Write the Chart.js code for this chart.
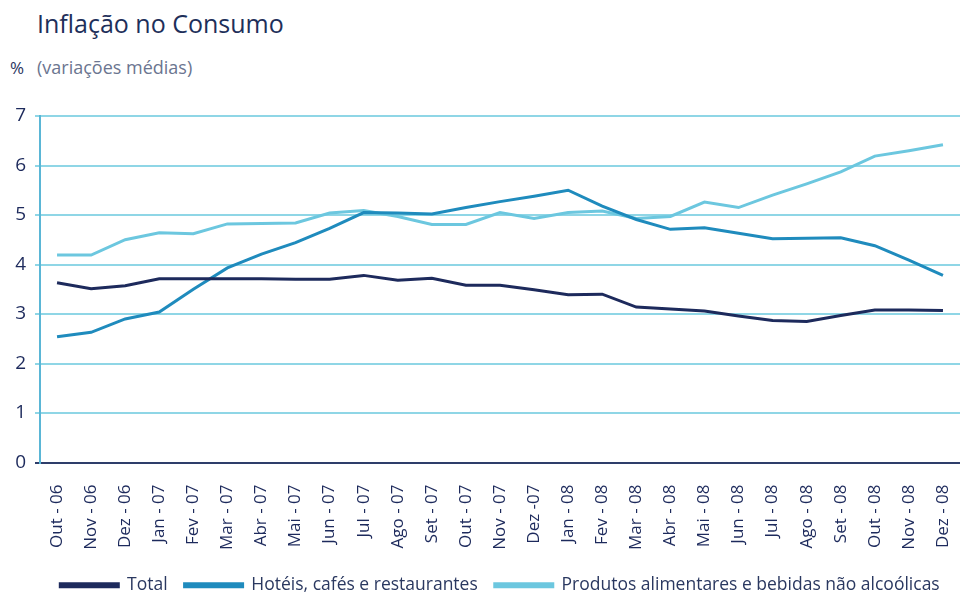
<!DOCTYPE html>
<html lang="pt">
<head>
    <meta charset="utf-8">
    <title>Inflação no Consumo</title>
    <script src="https://cdn.jsdelivr.net/npm/chart.js"></script>
    <style>
        body { margin: 0; background: #fff; font-family: "Open Sans", sans-serif; }
        .wrap { position: relative; width: 960px; height: 595px; }
        .title { position: absolute; left: 37px; top: 6px; font-size: 25px; color: #1e2f5a; }
        .unit { position: absolute; left: 10px; top: 56px; font-size: 17px; color: #2a3560; }
        .sub { position: absolute; left: 37px; top: 55px; font-size: 18px; color: #6b7590; }
        canvas { position: absolute; left: 0; top: 0; }
    </style>
</head>
<body>
<div class="wrap">
    <div class="title">Inflação no Consumo</div>
    <div class="unit">%</div>
    <div class="sub">(variações médias)</div>
    <canvas id="chart" width="960" height="595"></canvas>
</div>
<script>
    const months = ['Out - 06', 'Nov - 06', 'Dez - 06', 'Jan - 07', 'Fev - 07', 'Mar - 07', 'Abr - 07',
        'Mai - 07', 'Jun - 07', 'Jul - 07', 'Ago - 07', 'Set - 07', 'Out - 07', 'Nov - 07', 'Dez -07',
        'Jan - 08', 'Fev - 08', 'Mar - 08', 'Abr - 08', 'Mai - 08', 'Jun - 08', 'Jul - 08', 'Ago - 08',
        'Set - 08', 'Out - 08', 'Nov - 08', 'Dez - 08'];

    const total = [3.63, 3.51, 3.57, 3.71, 3.71, 3.71, 3.71, 3.70, 3.70, 3.78, 3.68, 3.72, 3.58,
        3.58, 3.49, 3.39, 3.40, 3.14, 3.10, 3.06, 2.96, 2.87, 2.85, 2.97, 3.08, 3.08, 3.07];

    const hoteis = [2.54, 2.63, 2.90, 3.04, 3.50, 3.93, 4.21, 4.44, 4.73, 5.05, 5.04, 5.02, 5.15,
        5.27, 5.38, 5.50, 5.18, 4.91, 4.71, 4.74, 4.63, 4.52, 4.53, 4.54, 4.38, 4.09, 3.78];

    const alimentares = [4.19, 4.19, 4.50, 4.64, 4.62, 4.82, 4.83, 4.84, 5.04, 5.09, 4.97, 4.81, 4.81,
        5.05, 4.93, 5.05, 5.08, 4.93, 4.97, 5.26, 5.15, 5.40, 5.63, 5.87, 6.19, 6.30, 6.42];

    const yTicks = [0, 1, 2, 3, 4, 5, 6, 7];

    const navy = '#1d2a5c';
    const mid = '#1f8bbd';
    const light = '#6cc7df';
    const grid = '#8fd6e6';

    function series(label, data, color) {
        return {
            label: label,
            data: data,
            borderColor: color,
            backgroundColor: color,
            borderWidth: 3,
            pointRadius: 0,
            tension: 0
        };
    }

    new Chart(document.getElementById('chart'), {
        type: 'line',
        data: {
            labels: months,
            datasets: [
                series('Total', total, navy),
                series('Hotéis, cafés e restaurantes', hoteis, mid),
                series('Produtos alimentares e bebidas não alcoólicas', alimentares, light)
            ]
        },
        options: {
            responsive: false,
            animation: false,
            layout: { padding: { top: 116, left: 0, right: -12, bottom: -9 } },
            plugins: {
                tooltip: { enabled: false },
                legend: {
                    position: 'bottom',
                    fullSize: false,
                    labels: {
                        boxWidth: 58,
                        boxHeight: 3,
                        padding: 17,
                        color: '#2a3860',
                        font: { family: 'Open Sans', size: 17.5 }
                    }
                }
            },
            scales: {
                x: {
                    offset: true,
                    grid: { display: false },
                    border: { display: true, color: '#2e3d6a', width: 2 },
                    ticks: {
                        autoSkip: false,
                        minRotation: 90,
                        maxRotation: 90,
                        padding: 14,
                        color: '#1d2a5c',
                        font: { family: 'Open Sans', size: 17 }
                    },
                    afterFit: function (scale) {
                        scale.height = 97;
                        scale.paddingLeft = 0;
                        scale.paddingRight = 0;
                    }
                },
                y: {
                    min: 0,
                    max: 7,
                    afterBuildTicks: function (scale) {
                        scale.ticks = yTicks.map(v => ({ value: v }));
                    },
                    grid: {
                        color: ctx => ctx.tick && ctx.tick.value === 0 ? '#2e3d6a' : grid,
                        lineWidth: 2,
                        tickLength: 5
                    },
                    border: { display: true, color: '#5ab6d6', width: 2 },
                    ticks: {
                        padding: 9,
                        color: '#1d2a5c',
                        font: { family: 'Open Sans', size: 19 }
                    },
                    afterFit: function (scale) { scale.width = 40; }
                }
            }
        }
    });
</script>
</body>
</html>
